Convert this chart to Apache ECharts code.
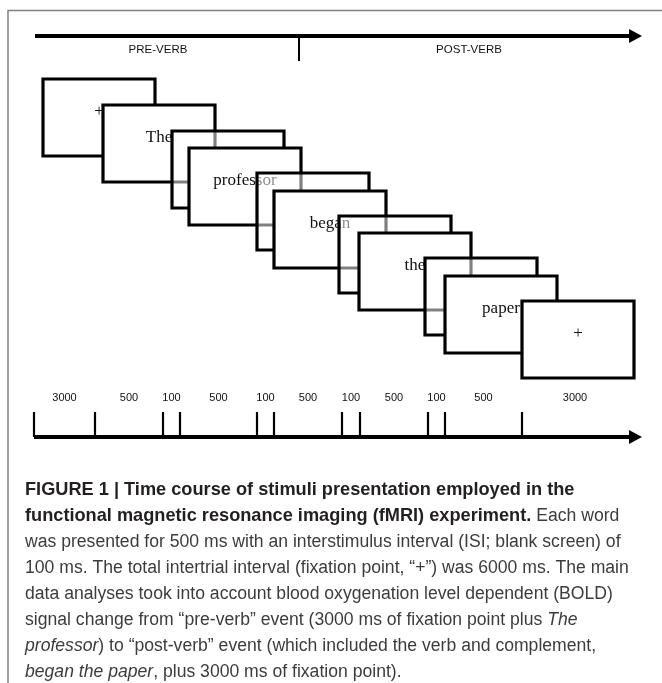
<!DOCTYPE html>
<html><head><meta charset="utf-8">
<script src="https://cdn.jsdelivr.net/npm/echarts@6/dist/echarts.min.js"></script>
<style>html,body{margin:0;padding:0;background:#fff}#c{width:662px;height:683px}</style>
</head><body><div id="c"></div>
<script>
// ---- data (diagram units: x 0..662, y 0..683 top-down) ----
const phaseLabels = ['PRE-VERB', 'POST-VERB'];
const phaseLabelX = [158, 469];
const phaseDividerX = 299;

const screenWords = ['+', 'The', '', 'professor', '', 'began', '', 'the', '', 'paper', '+'];
const screenLeft = [43, 103, 172, 189, 257, 274, 339, 359, 425, 445, 522];
const screenTop = [79, 105, 131, 148, 173, 191, 216, 233, 258, 276, 301];

const segmentLabels = ['3000', '500', '100', '500', '100', '500', '100', '500', '100', '500', '3000'];
const segmentBounds = [34, 95, 163, 180, 257, 274, 342, 360, 428, 445, 522, 628];

const captionLines = [
  [['b', 'FIGURE 1 | Time course of stimuli presentation employed in the']],
  [['b', 'functional magnetic resonance imaging (fMRI) experiment.'], ['n', ' Each word']],
  [['n', 'was presented for 500 ms with an interstimulus interval (ISI; blank screen) of']],
  [['n', '100 ms. The total intertrial interval (fixation point, \u201c+\u201d) was 6000 ms. The main']],
  [['n', 'data analyses took into account blood oxygenation level dependent (BOLD)']],
  [['n', 'signal change from \u201cpre-verb\u201d event (3000 ms of fixation point plus '], ['i', 'The']],
  [['i', 'professor'], ['n', ') to \u201cpost-verb\u201d event (which included the verb and complement,']],
  [['i', 'began the paper'], ['n', ', plus 3000 ms of fixation point).']]
];

// ---- layout constants ----
const SCREEN_W = 112, SCREEN_H = 77;
const TOP_AXIS_Y = 36, BOTTOM_AXIS_Y = 437, TICK_TOP = 412, SEG_LABEL_Y = 398;
const AXIS_END = 642, ARROW_LEN = 13, ARROW_HALF = 7;
const CAP_X = 25, CAP_Y0 = 490, CAP_DY = 26;
const SANS = '"Liberation Sans", Arial, sans-serif';

const chart = echarts.init(document.getElementById('c'), null, {renderer: 'canvas'});

function arrowItem(params, api) {
  const x0 = api.value(0), x1 = api.value(1), y = api.value(2);
  const a = api.coord([x0, y]);
  const b = api.coord([x1 - ARROW_LEN, y]);
  const tip = api.coord([x1, y]);
  const up = api.coord([x1 - ARROW_LEN, y - ARROW_HALF]);
  const dn = api.coord([x1 - ARROW_LEN, y + ARROW_HALF]);
  return {type: 'group', children: [
    {type: 'line', shape: {x1: a[0], y1: a[1], x2: b[0] + 1, y2: b[1]}, style: {stroke: '#000', lineWidth: 4}},
    {type: 'polygon', shape: {points: [up, tip, dn]}, style: {fill: '#000'}}
  ]};
}

const captionGraphics = captionLines.map((segs, k) => ({
  type: 'text',
  x: CAP_X,
  y: CAP_Y0 + k * CAP_DY,
  style: {
    text: segs.map(s => '{' + s[0] + '|' + s[1] + '}').join(''),
    verticalAlign: 'middle',
    rich: {
      b: {fontFamily: SANS, fontSize: 18.2, fontWeight: 'bold', fill: '#231f20'},
      n: {fontFamily: SANS, fontSize: 17.6, fill: '#3c3c3c'},
      i: {fontFamily: SANS, fontSize: 17.6, fontStyle: 'italic', fill: '#3c3c3c'}
    }
  }
}));

const option = {
  animation: false,
  backgroundColor: '#fff',
  grid: {left: 0, right: 0, top: 0, bottom: 0},
  xAxis: {type: 'value', min: 0, max: 662, show: false},
  yAxis: {type: 'value', min: 0, max: 683, inverse: true, show: false},
  graphic: [
    {type: 'polyline', shape: {points: [[8, 683], [8, 10.5], [662, 10.5]]}, style: {stroke: '#808080', lineWidth: 1.5, fill: null}}
  ].concat(captionGraphics),
  series: [
    // arrows (top phase axis and bottom timeline)
    {type: 'custom', coordinateSystem: 'cartesian2d', silent: true,
     data: [[segmentBounds[0] + 1, AXIS_END, TOP_AXIS_Y], [segmentBounds[0], AXIS_END, BOTTOM_AXIS_Y]],
     renderItem: arrowItem},
    // phase divider + labels
    {type: 'custom', coordinateSystem: 'cartesian2d', silent: true,
     data: phaseLabels.map((l, i) => [phaseLabelX[i], 50]),
     renderItem: (params, api) => {
       const p = api.coord([api.value(0), api.value(1)]);
       const children = [{type: 'text', style: {text: phaseLabels[params.dataIndex], x: p[0], y: p[1], align: 'center', verticalAlign: 'middle', font: '11.5px ' + SANS, fill: '#111'}}];
       if (params.dataIndex === 0) {
         const d0 = api.coord([phaseDividerX, TOP_AXIS_Y]);
         const d1 = api.coord([phaseDividerX, 61]);
         children.push({type: 'line', shape: {x1: d0[0], y1: d0[1], x2: d1[0], y2: d1[1]}, style: {stroke: '#000', lineWidth: 2}});
       }
       return {type: 'group', children};
     }},
    // screens
    {type: 'custom', coordinateSystem: 'cartesian2d', silent: true,
     data: screenLeft.map((x, i) => [x, screenTop[i]]),
     renderItem: (params, api) => {
       const i = params.dataIndex;
       const x = api.value(0), y = api.value(1);
       const word = screenWords[i];
       const p0 = api.coord([x, y]);
       const p1 = api.coord([x + SCREEN_W, y + SCREEN_H]);
       const opaque = word !== '';
       return {type: 'group', children: [
         {type: 'rect', z2: i * 2,
          shape: {x: p0[0], y: p0[1], width: p1[0] - p0[0], height: p1[1] - p0[1]},
          style: {fill: opaque ? '#fff' : 'rgba(255,255,255,0.5)', stroke: '#000', lineWidth: 3.2}},
         {type: 'text', z2: i * 2 + 1,
          style: {text: word, x: (p0[0] + p1[0]) / 2, y: p0[1] + 33, align: 'center', verticalAlign: 'middle',
                  font: '17px "Liberation Serif", serif', fill: '#111'}}
       ]};
     }},
    // timeline ticks and segment labels
    {type: 'custom', coordinateSystem: 'cartesian2d', silent: true,
     data: segmentLabels.map((l, i) => [segmentBounds[i], segmentBounds[i + 1]]),
     renderItem: (params, api) => {
       const a = api.value(0), b = api.value(1);
       const t0 = api.coord([a, TICK_TOP]);
       const t1 = api.coord([a, BOTTOM_AXIS_Y]);
       const m = api.coord([(a + b) / 2, SEG_LABEL_Y]);
       return {type: 'group', children: [
         {type: 'line', shape: {x1: t0[0], y1: t0[1], x2: t1[0], y2: t1[1]}, style: {stroke: '#000', lineWidth: 2.2}},
         {type: 'text', style: {text: segmentLabels[params.dataIndex], x: m[0], y: m[1], align: 'center', verticalAlign: 'middle', font: '11px ' + SANS, fill: '#111'}}
       ]};
     }}
  ]
};
chart.setOption(option);
</script></body></html>
